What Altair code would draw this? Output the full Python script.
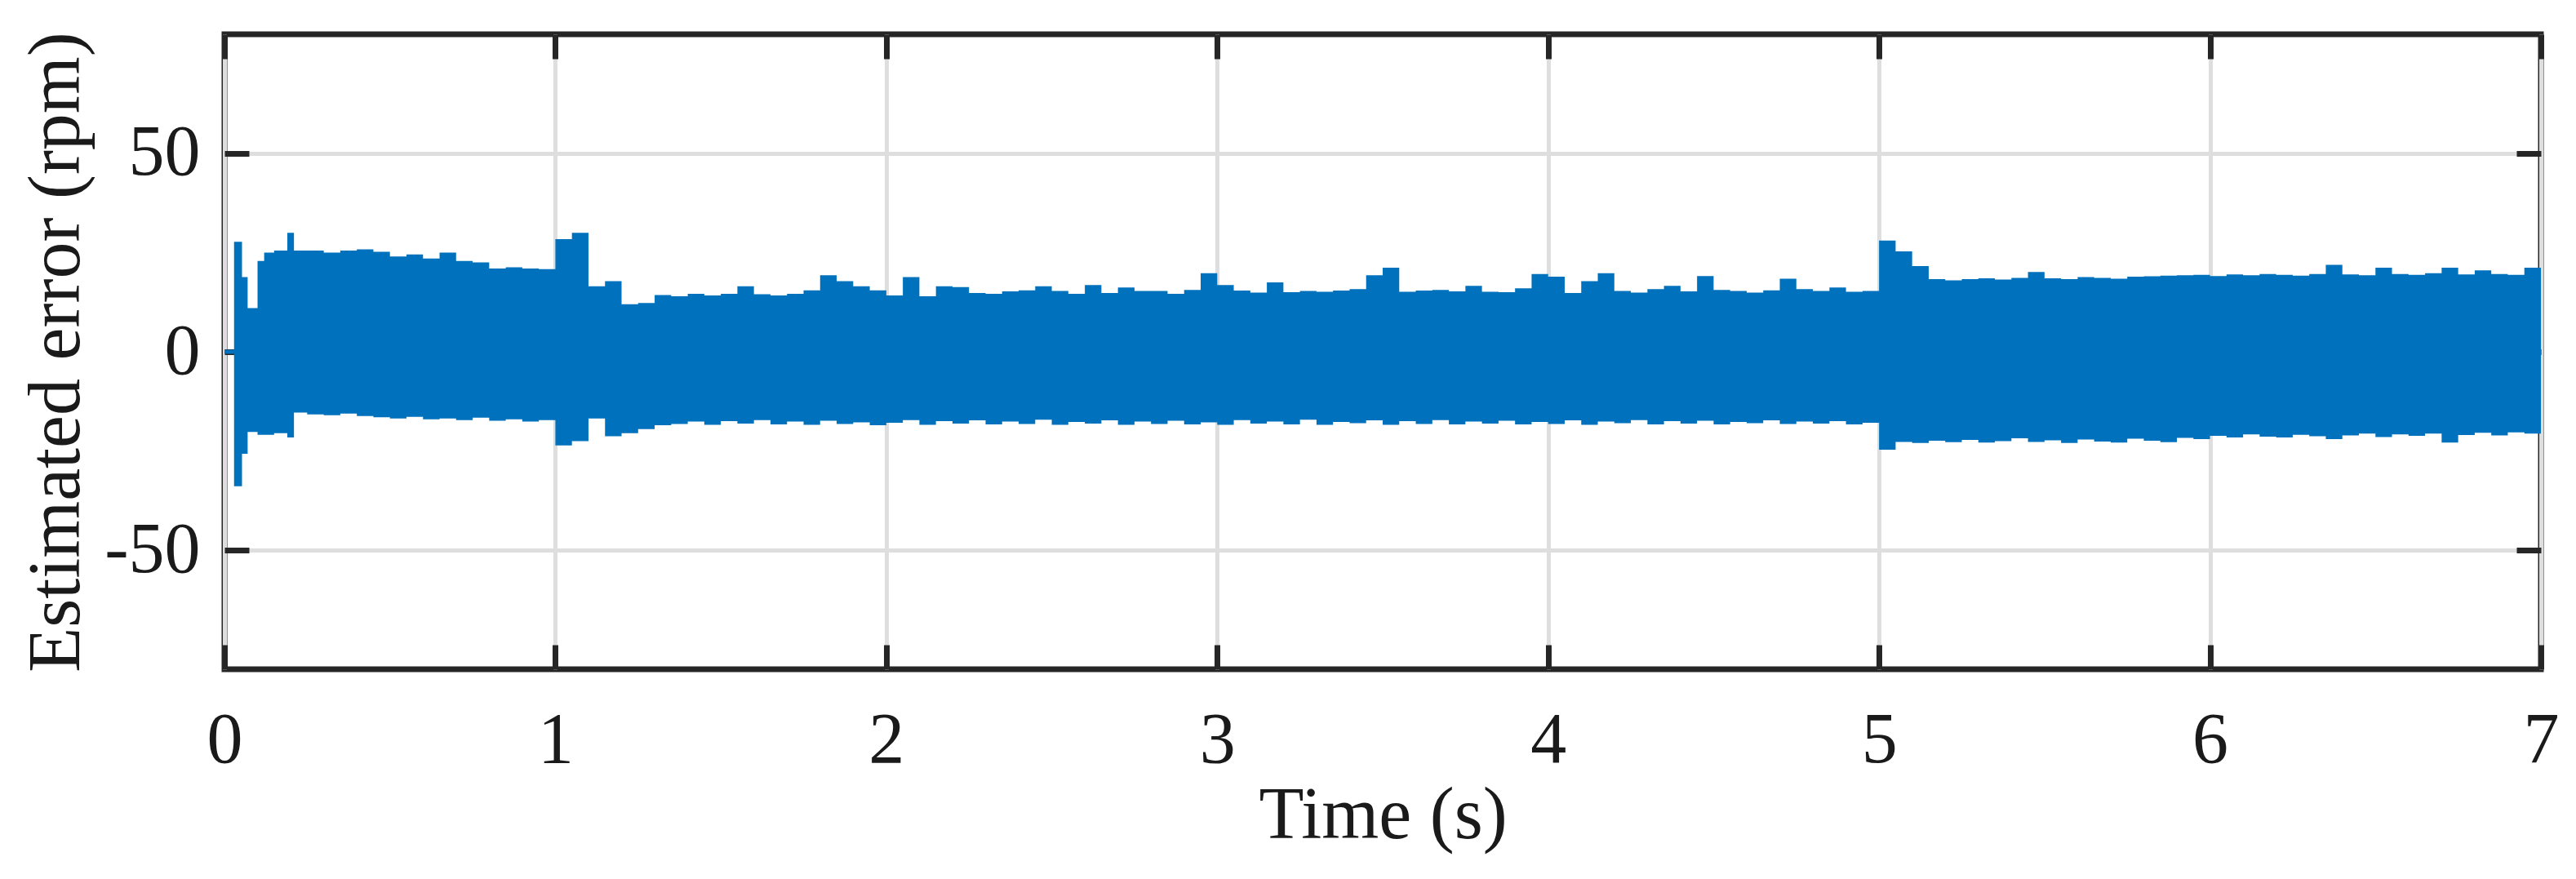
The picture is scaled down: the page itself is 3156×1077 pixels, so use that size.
import altair as alt
import pandas as pd

# Time samples (s) of the envelope of the estimated speed error
T_EARLY = [0.0, 0.029, 0.053, 0.07, 0.10, 0.12, 0.15, 0.19, 0.21]
UP_EARLY = [0.5, 27.7, 18.8, 11.0, 22.9, 25.0, 25.5, 30.0, 25.5]
LO_EARLY = [-0.5, -33.9, -25.7, -20.2, -20.9, -20.9, -20.5, -21.6, -15.3]

# upper envelope, t = 0.25 ... 7.00 every 0.05 s (rpm)
UPPER = [
    25.5, 25.0, 25.5, 25.8, 25.2, 24.0, 24.5, 23.5, 25.0, 22.9, 22.5, 21.0, 21.3, 21.0, 20.8,
    28.4, 30.0, 16.5, 17.8, 12.0, 12.3, 14.3, 14.0, 14.6, 14.2, 14.6, 16.5, 14.5, 14.2, 14.6, 15.5, 19.3, 17.8, 16.5, 15.5,
    14.2, 18.8, 14.0, 16.5, 16.3, 14.8, 14.6, 15.2, 15.5, 16.5, 15.3, 14.6, 16.8, 14.8, 16.2, 15.3, 15.3, 14.6, 15.6, 19.8,
    16.8, 15.4, 14.9, 17.5, 15.0, 15.3, 15.1, 15.4, 15.8, 19.3, 21.2, 15.1, 15.4, 15.6, 15.2, 16.6, 15.1, 15.0, 16.0, 19.6,
    18.9, 14.8, 17.8, 19.8, 15.3, 14.9, 15.8, 16.6, 15.2, 19.1, 15.6, 15.3, 14.9, 15.5, 18.4, 15.8, 15.3, 16.2, 15.1, 15.3,
    28.0, 25.3, 21.6, 18.3, 18.0, 18.3, 18.5, 18.2, 18.6, 20.1, 18.5, 18.3, 18.8, 18.6, 18.4, 18.9, 19.0, 19.2, 19.3, 19.4,
    19.1, 19.5, 19.3, 19.6, 19.4, 19.2, 19.6, 21.9, 19.5, 19.3, 21.2, 19.6, 19.4, 19.8, 21.2, 19.5, 20.5, 19.6, 19.4, 21.2,
    19.3,
]

# lower envelope, same time samples (rpm)
LOWER = [
    -15.8, -16.0, -15.6, -16.2, -16.5, -16.8, -16.4, -17.0, -16.8, -17.2, -16.6, -17.4, -17.0, -17.6, -17.2,
    -23.6, -22.5, -16.8, -21.3, -20.5, -19.5, -18.5, -18.2, -17.6, -18.4, -17.5, -18.1, -17.2, -18.3, -17.6, -18.4, -17.4, -18.2, -17.8, -18.5,
    -17.9, -17.2, -18.4, -17.5, -18.1, -17.3, -18.3, -17.6, -18.2, -17.1, -18.4, -17.7, -18.1, -17.3, -18.4, -17.6, -18.2, -17.4, -18.3, -17.8,
    -18.4, -17.2, -18.1, -17.6, -18.3, -17.1, -18.4, -17.7, -18.0, -17.3, -18.4, -17.5, -18.2, -17.2, -18.3, -17.6, -18.1, -17.4, -18.3, -17.7,
    -18.2, -17.3, -18.4, -17.6, -18.0, -17.2, -18.3, -17.5, -18.1, -17.4, -18.3, -17.7, -18.0, -17.3, -18.2, -17.6, -18.1, -17.5, -18.3, -17.9,
    -24.7, -22.7, -23.0, -22.4, -22.8, -22.2, -22.9, -22.5, -21.8, -22.7, -22.3, -23.0, -22.1, -22.6, -22.9, -21.9, -22.4, -22.8, -21.7, -22.0,
    -21.2, -21.6, -20.8, -21.4, -21.6, -20.9, -21.3, -22.0, -21.1, -20.6, -21.5, -20.8, -21.2, -20.6, -22.9, -21.0, -20.4, -21.1, -20.3, -20.6,
    -20.1,
]

X_TICKS = [0, 1, 2, 3, 4, 5, 6, 7]
Y_TICKS = [-50, 0, 50]

times = T_EARLY + [round(0.25 + 0.05 * i, 2) for i in range(len(UPPER))]
df = pd.DataFrame({"t": times, "up": UP_EARLY + UPPER, "lo": LO_EARLY + LOWER})

FONT = "Liberation Serif"
TXT = "#1a1a1a"
xscale = alt.Scale(domain=[0, 7], nice=False, zero=False)
yscale = alt.Scale(domain=[-80, 80], nice=False, zero=False)

band = alt.Chart(df).mark_area(
    interpolate="step-after", color="#0072BD", opacity=1
).encode(
    x=alt.X("t:Q", scale=xscale, axis=alt.Axis(
        orient="bottom", values=X_TICKS, title="Time (s)", grid=True,
        offset=-30, tickSize=30, labelPadding=43, titlePadding=4,
        labelFlush=False,
    )),
    y=alt.Y("up:Q", scale=yscale, axis=alt.Axis(
        orient="left", values=Y_TICKS, title="Estimated error (rpm)", grid=True,
        offset=-30, tickSize=30, labelPadding=30, titlePadding=12,
        labelExpr="'' + datum.value", labelFlush=False,
    )),
    y2="lo:Q",
)

frame = alt.Chart(df).mark_line(opacity=0).encode(
    x=alt.X("t:Q", scale=xscale, axis=alt.Axis(
        orient="top", values=X_TICKS, title=None, labels=False, grid=False,
        offset=-30, tickSize=30,
    )),
    y=alt.Y("up:Q", scale=yscale, axis=alt.Axis(
        orient="right", values=Y_TICKS, title=None, labels=False, grid=False,
        offset=-30, tickSize=30,
    )),
)

chart = alt.layer(band, frame).resolve_axis(
    x="independent", y="independent"
).properties(
    width=2838, height=778,
    autosize=alt.AutoSizeParams(type="none"),
    padding={"left": 267, "top": 34, "right": 35, "bottom": 249},
).configure_view(
    stroke="#262626", strokeWidth=7
).configure_axis(
    labelFont=FONT, titleFont=FONT, labelFontSize=88, titleFontSize=90,
    labelColor=TXT, titleColor=TXT, titleFontWeight="normal",
    gridColor="#dedede", gridWidth=5, gridOpacity=1,
    tickColor="#262626", tickWidth=7, domain=False,
)

chart.save("out.html", embed_options={"renderer": "svg", "actions": False})
